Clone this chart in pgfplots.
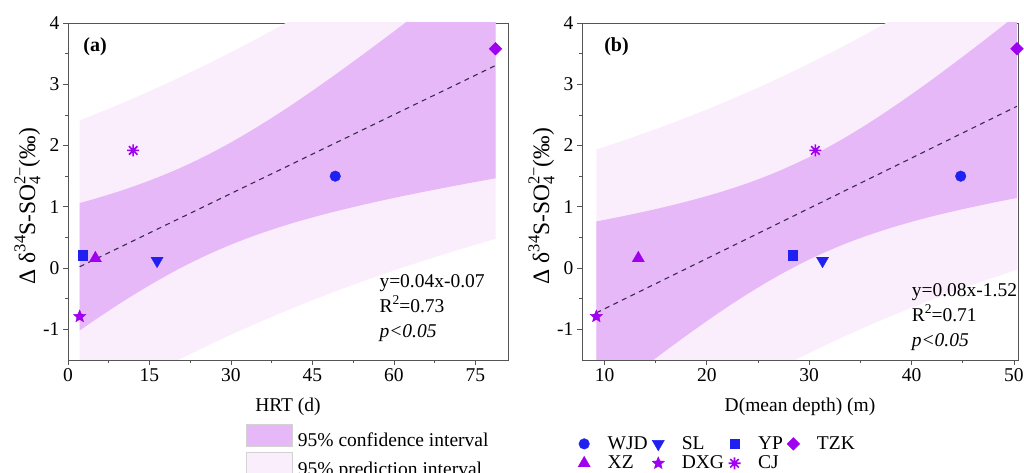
\documentclass[border=0pt]{standalone}
\usepackage{fontspec}
\setmainfont{Liberation Serif}
\usepackage{pgfplots}
\pgfplotsset{compat=1.18}
\usepgfplotslibrary{fillbetween}
\definecolor{ci}{HTML}{E6B8F8}
\definecolor{pi}{HTML}{FBEEFC}
\definecolor{mblue}{HTML}{2020F0}
\definecolor{mpurple}{HTML}{A000F0}
\definecolor{fitc}{HTML}{3A2A4A}
\definecolor{axc}{HTML}{555555}
\newcommand\fs{\fontsize{19.5}{23}\selectfont}
\newcommand\sups[1]{\raisebox{0.42em}{\fontsize{13.5}{14}\selectfont #1}}
\newcommand\Lsups[1]{\raisebox{0.42em}{\fontsize{16.5}{17}\selectfont #1}}
\newcommand\Lsubs[1]{\raisebox{-0.22em}{\fontsize{16.5}{17}\selectfont #1}}
\pgfdeclareplotmark{fstar}{%
 \pgfpathmoveto{\pgfpointpolar{90}{\pgfplotmarksize}}%
 \pgfpathlineto{\pgfpointpolar{126}{0.45\pgfplotmarksize}}%
 \pgfpathlineto{\pgfpointpolar{162}{\pgfplotmarksize}}%
 \pgfpathlineto{\pgfpointpolar{198}{0.45\pgfplotmarksize}}%
 \pgfpathlineto{\pgfpointpolar{234}{\pgfplotmarksize}}%
 \pgfpathlineto{\pgfpointpolar{270}{0.45\pgfplotmarksize}}%
 \pgfpathlineto{\pgfpointpolar{306}{\pgfplotmarksize}}%
 \pgfpathlineto{\pgfpointpolar{342}{0.45\pgfplotmarksize}}%
 \pgfpathlineto{\pgfpointpolar{18}{\pgfplotmarksize}}%
 \pgfpathlineto{\pgfpointpolar{54}{0.45\pgfplotmarksize}}%
 \pgfpathclose
 \pgfusepathqfillstroke}
\pgfdeclareplotmark{ast8}{%
 \pgfpathmoveto{\pgfpointpolar{0}{\pgfplotmarksize}}\pgfpathlineto{\pgfpointpolar{180}{\pgfplotmarksize}}%
 \pgfpathmoveto{\pgfpointpolar{45}{\pgfplotmarksize}}\pgfpathlineto{\pgfpointpolar{225}{\pgfplotmarksize}}%
 \pgfpathmoveto{\pgfpointpolar{90}{\pgfplotmarksize}}\pgfpathlineto{\pgfpointpolar{270}{\pgfplotmarksize}}%
 \pgfpathmoveto{\pgfpointpolar{135}{\pgfplotmarksize}}\pgfpathlineto{\pgfpointpolar{315}{\pgfplotmarksize}}%
 \pgfusepathqstroke}
\pgfplotsset{
 myaxis/.style={
  scale only axis, height=337pt, ymin=-1.5, ymax=4,
  ytick={-1,0,1,2,3,4}, minor tick num=1, tick align=outside,
  xtick pos=bottom, ytick pos=left,
  major tick length=5pt, minor tick length=3pt,
  axis line style={axc, line width=0.8pt}, every tick/.style={axc, line width=0.8pt},
  tick label style={font=\fs, black}, label style={font=\fs},
  /pgf/number format/assume math mode=true,
  ylabel={Δ δ\Lsups{34}S-SO\rlap{\Lsubs{4}}\Lsups{2−}(‰)},
  ylabel style={font=\fontsize{23.5}{25}\selectfont, at={(ticklabel cs:0.457)}, yshift=-4pt},
  xlabel style={yshift=-9pt},
  clip=true,
 },
 mk/.style={only marks, line width=0.4pt},
 legimg/.style={legend image code/.code={\draw[mark repeat=2,mark phase=2,##1] plot coordinates {(0pt,0pt) (8pt,0pt) (16pt,0pt)};
   \pgfpathrectangle{\pgfpoint{0pt}{-6pt}}{\pgfpoint{29pt}{12pt}}\pgfusepath{discard}}},
 swatch/.style={legend image code/.code={\pgfpathrectangle{\pgfpoint{0pt}{0pt}}{\pgfpoint{50pt}{16.5pt}}\pgfusepath{discard}%
   \draw[overlay, ##1, draw=gray!35, line width=0.7pt] (0pt,-5.5pt) rectangle (46pt,16.5pt);}},
}
\begin{document}
\begin{tikzpicture}
% ---------- (a) ----------
\begin{axis}[myaxis, at={(68pt,113pt)}, anchor=south west, width=440pt,
  xmin=0, xmax=81, xtick={0,15,30,45,60,75},
  xlabel={HRT (d)},
  legend style={at={(0.404,-0.1894)}, anchor=north west, draw=none, fill=none, font=\fs,
    inner sep=0pt, row sep=2.5pt, nodes={inner sep=2pt}},
  legend cell align=left, reverse legend]
\addplot[name path=piu, draw=none, forget plot, smooth] coordinates {
(2.15,2.410) (5,2.511) (10,2.694) (15,2.887) (20,3.089) (25,3.301) (30,3.523) (35,3.755) (40,3.996)
(45,4.246) (50,4.505) (55,4.773) (60,5.048) (65,5.330) (70,5.619) (75,5.914) (78.7,6.136)};
\addplot[name path=pil, draw=none, forget plot, smooth] coordinates {
(2.15,-2.366) (5,-2.222) (10,-1.976) (15,-1.740) (20,-1.513) (25,-1.296) (30,-1.089) (35,-0.892) (40,-0.704)
(45,-0.525) (50,-0.355) (55,-0.194) (60,-0.040) (65,0.107) (70,0.247) (75,0.381) (78.7,0.476)};
\addplot[name path=ciu, draw=none, forget plot, smooth] coordinates {
(2.15,1.062) (5,1.133) (10,1.270) (15,1.428) (20,1.608) (25,1.816) (30,2.051) (35,2.312) (40,2.594)
(45,2.894) (50,3.208) (55,3.532) (60,3.863) (65,4.201) (70,4.543) (75,4.889) (78.7,5.146)};
\addplot[name path=cil, draw=none, forget plot, smooth] coordinates {
(2.15,-1.018) (5,-0.844) (10,-0.552) (15,-0.281) (20,-0.032) (25,0.189) (30,0.383) (35,0.551) (40,0.698)
(45,0.827) (50,0.942) (55,1.047) (60,1.145) (65,1.236) (70,1.323) (75,1.406) (78.7,1.466)};
\addplot[fill=pi, draw=none, swatch] fill between[of=piu and pil];
\addlegendentry{95\% prediction interval}
\addplot[fill=ci, draw=none, swatch] fill between[of=ciu and cil];
\addlegendentry{95\% confidence interval}
\addplot[fitc, line width=1.1pt, dash pattern=on 5pt off 4.5pt, forget plot] coordinates {(2.15,0.022) (78.7,3.306)};
\addplot[mk, forget plot, mark=*, mark size=5.3pt, mblue, fill=mblue] coordinates {(49.2,1.50)};
\addplot[mk, forget plot, mark=triangle*, mark size=7pt, mark options={rotate=180}, mblue, fill=mblue] coordinates {(16.4,0.12)};
\addplot[mk, forget plot, mark=square*, mark size=4.6pt, mblue, fill=mblue] coordinates {(2.65,0.21)};
\addplot[mk, forget plot, mark=square*, mark size=4.5pt, mark options={rotate=45}, mpurple, fill=mpurple] coordinates {(78.7,3.58)};
\addplot[mk, forget plot, mark=triangle*, mark size=7pt, mpurple, fill=mpurple] coordinates {(5.04,0.16)};
\addplot[mk, forget plot, mark=fstar, mark size=6.5pt, mpurple, fill=mpurple] coordinates {(2.15,-0.79)};
\addplot[mk, forget plot, mark=ast8, mark size=6pt, mpurple, line width=1.6pt] coordinates {(12.0,1.92)};
\node[anchor=west, font=\fontsize{20}{23}\selectfont\bfseries] at (rel axis cs:0.027,0.929) {(a)};
\node[anchor=north west, align=left, font=\fontsize{19.5}{25}\selectfont, inner sep=0pt] at (rel axis cs:0.7075,0.255)
 {y=0.04x-0.07\\R\sups{2}=0.73\\\textit{p<0.05}};
\end{axis}
% ---------- (b) ----------
\begin{axis}[myaxis, at={(582pt,113pt)}, anchor=south west, width=436pt,
  xmin=7.8, xmax=50.4, xtick={10,20,30,40,50},
  xlabel={D(mean depth) (m)},
  legend style={at={(-0.0138,-0.2195)}, anchor=north west, draw=none, fill=none, font=\fs,
    inner sep=0pt, row sep=0pt, nodes={inner sep=2.5pt},
    /tikz/every even column/.append style={column sep=0pt}},
  legend columns=4, legend cell align=left]
\addplot[name path=piu, draw=none, forget plot, smooth] coordinates {
(9.2,1.936) (12,2.092) (15,2.269) (18,2.457) (21,2.658) (24,2.871) (27,3.098) (30,3.339) (33,3.593)
(36,3.861) (39,4.142) (42,4.436) (45,4.742) (48,5.059) (50.3,5.310)};
\addplot[name path=pil, draw=none, forget plot, smooth] coordinates {
(9.2,-3.396) (12,-3.092) (15,-2.777) (18,-2.473) (21,-2.182) (24,-1.903) (27,-1.638) (30,-1.387) (33,-1.149)
(36,-0.925) (39,-0.714) (42,-0.516) (45,-0.330) (48,-0.155) (50.3,-0.028)};
\addplot[name path=ciu, draw=none, forget plot, smooth] coordinates {
(9.2,0.761) (12,0.854) (15,0.963) (18,1.085) (21,1.224) (24,1.387) (27,1.581) (30,1.812) (33,2.081)
(36,2.386) (39,2.720) (42,3.076) (45,3.450) (48,3.835) (50.3,4.137)};
\addplot[name path=cil, draw=none, forget plot, smooth] coordinates {
(9.2,-2.221) (12,-1.854) (15,-1.471) (18,-1.101) (21,-0.748) (24,-0.419) (27,-0.121) (30,0.140) (33,0.363)
(36,0.550) (39,0.708) (42,0.844) (45,0.962) (48,1.069) (50.3,1.145)};
\addplot[fill=pi, draw=none, forget plot] fill between[of=piu and pil];
\addplot[fill=ci, draw=none, forget plot] fill between[of=ciu and cil];
\addplot[fitc, line width=1.1pt, dash pattern=on 5pt off 4.5pt, forget plot] coordinates {(9.2,-0.730) (50.3,2.641)};
\addplot[mk, legimg, mark=*, mark size=5.3pt, mblue, fill=mblue] coordinates {(44.8,1.50)};
\addlegendentry{WJD}
\addplot[mk, legimg, mark=triangle*, mark size=7pt, mark options={rotate=180}, mblue, fill=mblue] coordinates {(31.3,0.12)};
\addlegendentry{SL}
\addplot[mk, legimg, mark=square*, mark size=4.6pt, mblue, fill=mblue] coordinates {(28.4,0.21)};
\addlegendentry{YP}
\addplot[mk, legimg, mark=square*, mark size=4.5pt, mark options={rotate=45}, mpurple, fill=mpurple] coordinates {(50.3,3.58)};
\addlegendentry{TZK}
\addplot[mk, legimg, mark=triangle*, mark size=7pt, mpurple, fill=mpurple] coordinates {(13.3,0.16)};
\addlegendentry{XZ}
\addplot[mk, legimg, mark=fstar, mark size=6.5pt, mpurple, fill=mpurple] coordinates {(9.2,-0.79)};
\addlegendentry{DXG}
\addplot[mk, legimg, mark=ast8, mark size=6pt, mpurple, line width=1.6pt] coordinates {(30.6,1.92)};
\addlegendentry{CJ}
\node[anchor=west, font=\fontsize{20}{23}\selectfont\bfseries] at (rel axis cs:0.043,0.929) {(b)};
\node[anchor=north west, align=left, font=\fontsize{19.5}{25}\selectfont, inner sep=0pt] at (rel axis cs:0.756,0.228)
 {y=0.08x-1.52\\R\sups{2}=0.71\\\textit{p<0.05}};
\end{axis}
\pgfresetboundingbox
\path[use as bounding box] (0,0) rectangle (1024pt,473pt);
\end{tikzpicture}
\end{document}
